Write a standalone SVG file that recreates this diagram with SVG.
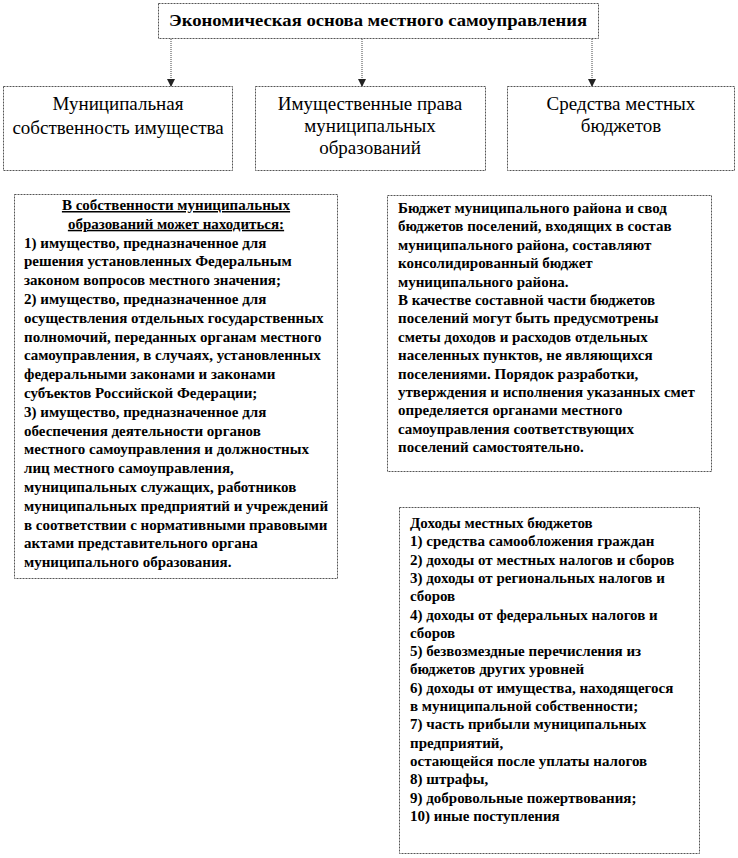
<svg xmlns="http://www.w3.org/2000/svg" width="738" height="858" viewBox="0 0 738 858">
<defs>
<marker id="arr" markerWidth="8" markerHeight="8" refX="7" refY="4" orient="auto" markerUnits="userSpaceOnUse">
<path d="M0,0 L8,4 L0,8 Z" fill="#222"/>
</marker>
</defs>
<rect width="738" height="858" fill="#fff"/>
<g id="connectors" stroke="#444" stroke-width="1" stroke-dasharray="1,1" fill="none">
<line x1="171" y1="39" x2="171" y2="86" marker-end="url(#arr)"/>
<line x1="362" y1="39" x2="362" y2="86" marker-end="url(#arr)"/>
<line x1="592" y1="39" x2="592" y2="86" marker-end="url(#arr)"/>
</g>
<g id="title">
<rect x="158.5" y="3.5" width="440" height="35" fill="#fff" stroke="#555" stroke-dasharray="2,1"/>
<text style="font-family:'Liberation Serif',serif;font-size:17px;font-weight:bold" x="378" y="26" text-anchor="middle" textLength="418" lengthAdjust="spacingAndGlyphs">Экономическая основа местного самоуправления</text>
</g>
<g id="mun-property">
<rect x="3.5" y="86.5" width="229" height="84" fill="#fff" stroke="#555" stroke-dasharray="2,1"/>
<text style="font-family:'Liberation Serif',serif;font-size:19px" x="118" y="110" text-anchor="middle">Муниципальная</text>
<text style="font-family:'Liberation Serif',serif;font-size:19px" x="118" y="134" text-anchor="middle">собственность имущества</text>
</g>
<g id="property-rights">
<rect x="255.5" y="86.5" width="230" height="84" fill="#fff" stroke="#555" stroke-dasharray="2,1"/>
<text style="font-family:'Liberation Serif',serif;font-size:19px" x="370" y="110" text-anchor="middle">Имущественные права</text>
<text style="font-family:'Liberation Serif',serif;font-size:19px" x="370" y="132" text-anchor="middle">муниципальных</text>
<text style="font-family:'Liberation Serif',serif;font-size:19px" x="370" y="154" text-anchor="middle">образований</text>
</g>
<g id="budget-funds">
<rect x="507.5" y="86.5" width="227" height="84" fill="#fff" stroke="#555" stroke-dasharray="2,1"/>
<text style="font-family:'Liberation Serif',serif;font-size:19px" x="621" y="110" text-anchor="middle">Средства местных</text>
<text style="font-family:'Liberation Serif',serif;font-size:19px" x="621" y="132" text-anchor="middle">бюджетов</text>
</g>
<g id="property-list">
<rect x="14.5" y="194.5" width="323" height="384" fill="#fff" stroke="#555" stroke-dasharray="2,1"/>
<text style="font-family:'Liberation Serif',serif;font-size:15px;font-weight:bold;text-decoration:underline" x="176" y="210" text-anchor="middle">В собственности муниципальных</text>
<text style="font-family:'Liberation Serif',serif;font-size:15px;font-weight:bold;text-decoration:underline" x="176" y="228.8" text-anchor="middle">образований может находиться:</text>
<text style="font-family:'Liberation Serif',serif;font-size:15px;font-weight:bold" x="24" y="247.6">1) имущество,  предназначенное для</text>
<text style="font-family:'Liberation Serif',serif;font-size:15px;font-weight:bold" x="24" y="266.4">решения  установленных Федеральным</text>
<text style="font-family:'Liberation Serif',serif;font-size:15px;font-weight:bold" x="24" y="285.2">законом вопросов местного значения;</text>
<text style="font-family:'Liberation Serif',serif;font-size:15px;font-weight:bold" x="24" y="304">2) имущество,  предназначенное для</text>
<text style="font-family:'Liberation Serif',serif;font-size:15px;font-weight:bold" x="24" y="322.8">осуществления  отдельных государственных</text>
<text style="font-family:'Liberation Serif',serif;font-size:15px;font-weight:bold" x="24" y="341.6">полномочий, переданных органам местного</text>
<text style="font-family:'Liberation Serif',serif;font-size:15px;font-weight:bold" x="24" y="360.4">самоуправления, в случаях,  установленных</text>
<text style="font-family:'Liberation Serif',serif;font-size:15px;font-weight:bold" x="24" y="379.2">федеральными  законами и законами</text>
<text style="font-family:'Liberation Serif',serif;font-size:15px;font-weight:bold" x="24" y="398">субъектов  Российской Федерации;</text>
<text style="font-family:'Liberation Serif',serif;font-size:15px;font-weight:bold" x="24" y="416.8">3) имущество,  предназначенное для</text>
<text style="font-family:'Liberation Serif',serif;font-size:15px;font-weight:bold" x="24" y="435.6">обеспечения деятельности органов</text>
<text style="font-family:'Liberation Serif',serif;font-size:15px;font-weight:bold" x="24" y="454.4">местного самоуправления и должностных</text>
<text style="font-family:'Liberation Serif',serif;font-size:15px;font-weight:bold" x="24" y="473.2">лиц местного  самоуправления,</text>
<text style="font-family:'Liberation Serif',serif;font-size:15px;font-weight:bold" x="24" y="492">муниципальных служащих,  работников</text>
<text style="font-family:'Liberation Serif',serif;font-size:15px;font-weight:bold" x="24" y="510.8">муниципальных предприятий и учреждений</text>
<text style="font-family:'Liberation Serif',serif;font-size:15px;font-weight:bold" x="24" y="529.6">в  соответствии с нормативными правовыми</text>
<text style="font-family:'Liberation Serif',serif;font-size:15px;font-weight:bold" x="24" y="548.4">актами представительного органа</text>
<text style="font-family:'Liberation Serif',serif;font-size:15px;font-weight:bold" x="24" y="567.2">муниципального образования.</text>
</g>
<g id="budget-consolidated">
<rect x="387.5" y="195.5" width="324" height="276" fill="#fff" stroke="#555" stroke-dasharray="2,1"/>
<text style="font-family:'Liberation Serif',serif;font-size:15px;font-weight:bold" x="398" y="213">Бюджет муниципального района и свод</text>
<text style="font-family:'Liberation Serif',serif;font-size:15px;font-weight:bold" x="398" y="231.4">бюджетов поселений, входящих  в состав</text>
<text style="font-family:'Liberation Serif',serif;font-size:15px;font-weight:bold" x="398" y="249.8">муниципального района, составляют</text>
<text style="font-family:'Liberation Serif',serif;font-size:15px;font-weight:bold" x="398" y="268.2">консолидированный бюджет</text>
<text style="font-family:'Liberation Serif',serif;font-size:15px;font-weight:bold" x="398" y="286.6">муниципального района.</text>
<text style="font-family:'Liberation Serif',serif;font-size:15px;font-weight:bold" x="398" y="305">В качестве составной части бюджетов</text>
<text style="font-family:'Liberation Serif',serif;font-size:15px;font-weight:bold" x="398" y="323.4">поселений могут  быть предусмотрены</text>
<text style="font-family:'Liberation Serif',serif;font-size:15px;font-weight:bold" x="398" y="341.8">сметы доходов  и расходов  отдельных</text>
<text style="font-family:'Liberation Serif',serif;font-size:15px;font-weight:bold" x="398" y="360.2">населенных пунктов, не являющихся</text>
<text style="font-family:'Liberation Serif',serif;font-size:15px;font-weight:bold" x="398" y="378.6">поселениями. Порядок разработки,</text>
<text style="font-family:'Liberation Serif',serif;font-size:15px;font-weight:bold" x="398" y="397">утверждения и исполнения указанных  смет</text>
<text style="font-family:'Liberation Serif',serif;font-size:15px;font-weight:bold" x="398" y="415.4">определяется  органами местного</text>
<text style="font-family:'Liberation Serif',serif;font-size:15px;font-weight:bold" x="398" y="433.8">самоуправления соответствующих</text>
<text style="font-family:'Liberation Serif',serif;font-size:15px;font-weight:bold" x="398" y="452.2">поселений самостоятельно.</text>
</g>
<g id="budget-revenues">
<rect x="399.5" y="507.5" width="300" height="346" fill="#fff" stroke="#555" stroke-dasharray="2,1"/>
<text style="font-family:'Liberation Serif',serif;font-size:15px;font-weight:bold" x="410" y="528">Доходы местных бюджетов</text>
<text style="font-family:'Liberation Serif',serif;font-size:15px;font-weight:bold" x="410" y="546.3">1) средства самообложения граждан</text>
<text style="font-family:'Liberation Serif',serif;font-size:15px;font-weight:bold" x="410" y="564.6">2) доходы  от местных налогов и сборов</text>
<text style="font-family:'Liberation Serif',serif;font-size:15px;font-weight:bold" x="410" y="582.9">3) доходы  от региональных налогов и</text>
<text style="font-family:'Liberation Serif',serif;font-size:15px;font-weight:bold" x="410" y="601.2">сборов</text>
<text style="font-family:'Liberation Serif',serif;font-size:15px;font-weight:bold" x="410" y="619.5">4) доходы  от федеральных  налогов и</text>
<text style="font-family:'Liberation Serif',serif;font-size:15px;font-weight:bold" x="410" y="637.8">сборов</text>
<text style="font-family:'Liberation Serif',serif;font-size:15px;font-weight:bold" x="410" y="656.1">5) безвозмездные перечисления из</text>
<text style="font-family:'Liberation Serif',serif;font-size:15px;font-weight:bold" x="410" y="674.4">бюджетов других  уровней</text>
<text style="font-family:'Liberation Serif',serif;font-size:15px;font-weight:bold" x="410" y="692.7">6) доходы  от имущества,  находящегося</text>
<text style="font-family:'Liberation Serif',serif;font-size:15px;font-weight:bold" x="410" y="711">в муниципальной собственности;</text>
<text style="font-family:'Liberation Serif',serif;font-size:15px;font-weight:bold" x="410" y="729.3">7) часть прибыли муниципальных</text>
<text style="font-family:'Liberation Serif',serif;font-size:15px;font-weight:bold" x="410" y="747.6">предприятий,</text>
<text style="font-family:'Liberation Serif',serif;font-size:15px;font-weight:bold" x="410" y="765.9">остающейся  после уплаты налогов</text>
<text style="font-family:'Liberation Serif',serif;font-size:15px;font-weight:bold" x="410" y="784.2">8) штрафы,</text>
<text style="font-family:'Liberation Serif',serif;font-size:15px;font-weight:bold" x="410" y="802.5">9) добровольные пожертвования;</text>
<text style="font-family:'Liberation Serif',serif;font-size:15px;font-weight:bold" x="410" y="820.8">10) иные поступления</text>
</g>
</svg>
